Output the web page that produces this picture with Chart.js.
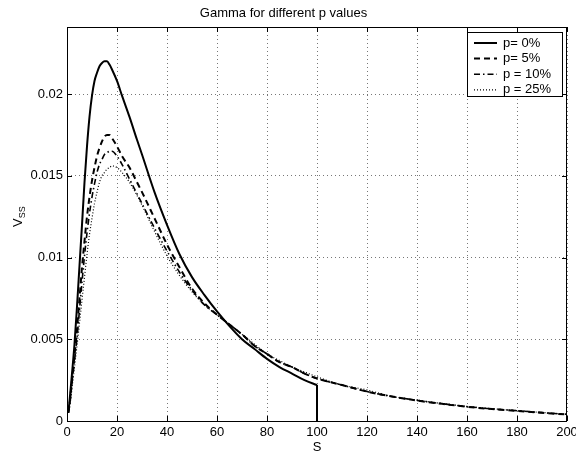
<!DOCTYPE html>
<html>
<head>
<meta charset="utf-8">
<script src="https://cdn.jsdelivr.net/npm/chart.js@4/dist/chart.umd.min.js"></script>
<style>
  html, body { margin: 0; padding: 0; background: #fff; }
  #wrap { width: 576px; height: 456px; }
</style>
</head>
<body>
<div id="wrap"><canvas id="gamma" width="576" height="456"></canvas></div>
<script>
// ── Data ──────────────────────────────────────────────────
const sPts = [0.5, 1, 2, 3, 4, 5, 6, 7, 8, 9, 10, 11, 12, 13, 14, 15, 16, 17, 18, 20, 22, 25, 28, 30,
  35, 40, 45, 50, 55, 60, 65, 70, 75, 80, 85, 90, 95, 100,
  110, 120, 130, 140, 150, 160, 170, 180, 190, 200];

const vP0 = [0.0005, 0.0012, 0.0029, 0.0047, 0.0070, 0.0095, 0.0120, 0.0146, 0.0168, 0.0186, 0.0199, 0.0208, 0.0213, 0.0217, 0.0219, 0.0220, 0.0220, 0.0218, 0.0215, 0.0208, 0.0199, 0.0186, 0.0172, 0.0163,
  0.0140, 0.0120, 0.0102, 0.0088, 0.0077, 0.0067, 0.0058, 0.0050, 0.0044, 0.0038, 0.0033, 0.0029, 0.0025, 0.0022,
  null, null, null, null, null, null, null, null, null, null];
const vP5 = [0.0005, 0.0010, 0.0025, 0.0040, 0.0056, 0.0075, 0.0094, 0.0110, 0.0125, 0.0137, 0.0147, 0.0155, 0.0162, 0.0167, 0.0171, 0.0174, 0.0175, 0.0175, 0.0173, 0.0168, 0.0162, 0.0155, 0.0146, 0.0140,
  0.0124, 0.0108, 0.0094, 0.0081, 0.0072, 0.0065, 0.0059, 0.0053, 0.0046, 0.0041, 0.0036, 0.0033, 0.0029, 0.0026,
  0.0022, 0.0018, 0.0015, 0.00125, 0.00105, 0.00087, 0.00073, 0.00062, 0.0005, 0.0004];
const vP10 = [0.0005, 0.0009, 0.0023, 0.0037, 0.0051, 0.0068, 0.0085, 0.0101, 0.0115, 0.0127, 0.0137, 0.0145, 0.0152, 0.0157, 0.0160, 0.0163, 0.0164, 0.0165, 0.0165, 0.0162, 0.0157, 0.0148, 0.0139, 0.0133,
  0.0118, 0.0104, 0.0091, 0.0080, 0.0071, 0.0065, 0.0059, 0.0053, 0.0046, 0.0041, 0.0036, 0.0033, 0.0029, 0.0026,
  0.0022, 0.0018, 0.0015, 0.00126, 0.00106, 0.00088, 0.00074, 0.00063, 0.00051, 0.00041];
const vP25 = [0.0005, 0.0008, 0.0020, 0.0033, 0.0046, 0.0060, 0.0074, 0.0088, 0.0102, 0.0114, 0.0124, 0.0133, 0.0140, 0.0146, 0.0150, 0.0152, 0.0154, 0.0155, 0.0156, 0.0155, 0.0152, 0.0146, 0.0138, 0.0132,
  0.0116, 0.0101, 0.0089, 0.0079, 0.0071, 0.0065, 0.0059, 0.0053, 0.0047, 0.0041, 0.0037, 0.0033, 0.0030, 0.0027,
  0.0022, 0.0019, 0.0015, 0.00128, 0.00107, 0.00089, 0.00075, 0.00064, 0.00052, 0.00042];

// solid curve is cut to zero at S = 100
const dropS = [100, 100];
const dropV = [0.0022, 0];

const seriesLabels = ['p= 0%', 'p= 5%', 'p = 10%', 'p = 25%'];
const xTicks = [0, 20, 40, 60, 80, 100, 120, 140, 160, 180, 200];
const yTicks = [0, 0.005, 0.01, 0.015, 0.02];
const yTickLabels = ['0', '0.005', '0.01', '0.015', '0.02'];

const FONT = "'Liberation Sans', Arial, Helvetica, sans-serif";

const toPts = (xs, ys) => xs.map((x, i) => ({ x, y: ys[i] }));

const styles = [
  { borderWidth: 2,   borderDash: [] },
  { borderWidth: 2,   borderDash: [6, 4] },
  { borderWidth: 1.6, borderDash: [6, 3, 1.5, 3] },
  { borderWidth: 1.2, borderDash: [1, 2] },
];

// ── Frame, inward ticks, y label, legend ──────────────────
const matlabFrame = {
  id: 'matlabFrame',
  afterDatasetsDraw(chart) {
    const { ctx, chartArea: a, scales } = chart;
    ctx.save();
    ctx.strokeStyle = '#000';
    ctx.lineWidth = 1;
    ctx.setLineDash([]);
    ctx.strokeRect(a.left + 0.5, a.top + 0.5, a.right - a.left - 1, a.bottom - a.top);

    // inward tick marks
    ctx.beginPath();
    xTicks.forEach(v => {
      const x = Math.round(scales.x.getPixelForValue(v)) + 0.5;
      ctx.moveTo(x, a.bottom); ctx.lineTo(x, a.bottom - 5);
      ctx.moveTo(x, a.top);    ctx.lineTo(x, a.top + 5);
    });
    yTicks.forEach(v => {
      const y = Math.round(scales.y.getPixelForValue(v)) + 0.5;
      ctx.moveTo(a.left, y);  ctx.lineTo(a.left + 5, y);
      ctx.moveTo(a.right, y); ctx.lineTo(a.right - 5, y);
    });
    ctx.stroke();

    // y label V_SS
    ctx.fillStyle = '#000';
    ctx.translate(22, 227);
    ctx.rotate(-Math.PI / 2);
    ctx.textBaseline = 'alphabetic';
    ctx.textAlign = 'left';
    ctx.font = '13px ' + FONT;
    ctx.fillText('V', 0, 0);
    const w = ctx.measureText('V').width;
    ctx.font = '9px ' + FONT;
    ctx.fillText('SS', w, 3);
    ctx.restore();

    // legend box
    const lx = 467, ly = 32, lw = 95, lh = 64;
    ctx.save();
    ctx.fillStyle = '#fff';
    ctx.fillRect(lx, ly, lw, lh);
    ctx.strokeStyle = '#000';
    ctx.lineWidth = 1;
    ctx.strokeRect(lx + 0.5, ly + 0.5, lw, lh);
    ctx.font = '13px ' + FONT;
    ctx.textBaseline = 'middle';
    ctx.fillStyle = '#000';
    chart.data.datasets.slice(0, 4).forEach((ds, i) => {
      const y = ly + 11 + i * 15.6;
      ctx.beginPath();
      ctx.lineWidth = ds.borderWidth;
      ctx.setLineDash(ds.borderDash);
      ctx.moveTo(474, y); ctx.lineTo(497, y);
      ctx.stroke();
      ctx.setLineDash([]);
      ctx.fillText(seriesLabels[i], 503, y);
    });
    ctx.restore();
  },
};

const datasets = [vP0, vP5, vP10, vP25].map((vals, i) => ({
  label: seriesLabels[i],
  data: toPts(sPts, vals),
  borderColor: '#000',
  borderWidth: styles[i].borderWidth,
  borderDash: styles[i].borderDash,
  pointRadius: 0,
  fill: false,
  cubicInterpolationMode: 'monotone',
  spanGaps: false,
}));
datasets.push({
  label: 'drop',
  data: toPts(dropS, dropV),
  borderColor: '#000',
  borderWidth: 2,
  borderDash: [],
  pointRadius: 0,
  fill: false,
  tension: 0,
});

new Chart(document.getElementById('gamma').getContext('2d'), {
  type: 'line',
  data: { datasets },
  options: {
    responsive: false,
    animation: false,
    layout: { padding: { left: 0, right: 9, top: 0, bottom: 0 } },
    plugins: {
      legend: { display: false },
      tooltip: { enabled: false },
      title: {
        display: true,
        text: 'Gamma for different p values',
        color: '#000',
        font: { size: 13, weight: 'normal', family: FONT },
        padding: { top: 6, bottom: 5.4 },
      },
    },
    scales: {
      x: {
        type: 'linear',
        min: 0,
        max: 200,
        afterBuildTicks: s => { s.ticks = xTicks.map(v => ({ value: v })); },
        afterFit: s => { s.height = 35; s.paddingLeft = 0; s.paddingRight = 0; },
        border: { display: false, dash: [1, 3] },
        grid: { color: '#777', lineWidth: 1, drawTicks: false },
        ticks: { color: '#000', padding: 4, maxRotation: 0, font: { size: 13, family: FONT } },
        title: { display: true, text: 'S', color: '#000', padding: { top: 0, bottom: 1 }, font: { size: 13, family: FONT } },
      },
      y: {
        type: 'linear',
        min: 0,
        max: 0.0241,
        afterBuildTicks: s => { s.ticks = yTicks.map(v => ({ value: v })); },
        afterFit: s => { s.width = 67; s.paddingTop = 0; s.paddingBottom = 0; },
        border: { display: false, dash: [1, 3] },
        grid: { color: '#777', lineWidth: 1, drawTicks: false },
        ticks: {
          color: '#000',
          padding: 4,
          font: { size: 13, family: FONT },
          callback: (v) => { const i = yTicks.indexOf(v); return i >= 0 ? yTickLabels[i] : ''; },
        },
      },
    },
  },
  plugins: [matlabFrame],
});
</script>
</body>
</html>
